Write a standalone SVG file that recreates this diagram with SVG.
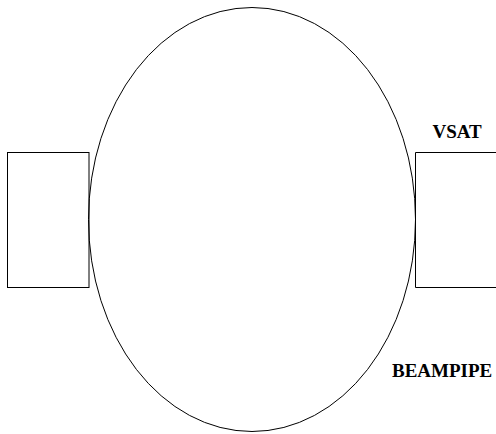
<svg xmlns="http://www.w3.org/2000/svg" width="496" height="434" viewBox="0 0 496 434">
  <style>
    .shape { fill: none; stroke: #000; stroke-width: 1; }
    .label { font-family: "Liberation Serif", "Times New Roman", serif; font-weight: bold; font-size: 19px; fill: #000; }
  </style>
  <rect width="496" height="434" fill="#fff"/>
  <g id="beampipe">
    <ellipse class="shape" cx="252" cy="219.5" rx="163.5" ry="212"/>
    <text class="label" x="392" y="377">BEAMPIPE</text>
  </g>
  <g id="left-block">
    <rect class="shape" x="7.5" y="152.5" width="81.5" height="135"/>
  </g>
  <g id="vsat">
    <path class="shape" d="M497 152.5 H415.5 V287.5 H497"/>
    <text class="label" x="432.5" y="138">VSAT</text>
  </g>
  <g id="connectors"></g>
</svg>
